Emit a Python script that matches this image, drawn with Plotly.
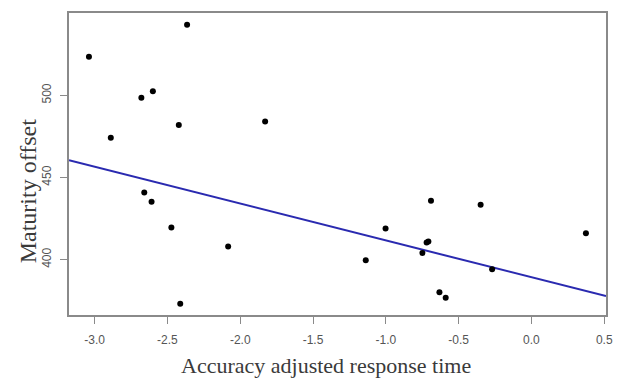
import plotly.graph_objects as go

# Data
response_time = [-3.039, -2.365, -2.679, -2.600, -2.422, -1.829, -2.889, -2.659, -2.609,
                 -2.473, -2.083, -2.412, -0.690, -0.349, -1.002, 0.374, -0.708, -0.720,
                 -0.749, -1.138, -0.270, -0.632, -0.589]
maturity_offset = [523.5, 542.9, 498.5, 502.5, 482.0, 484.0, 474.1, 440.9, 435.2,
                   419.5, 408.0, 373.2, 435.8, 433.4, 418.9, 416.1, 411.1, 410.5,
                   404.0, 399.6, 394.1, 380.2, 376.8]
fit_intercept = 389.3
fit_slope = -22.4

x_ticks = [-3.0, -2.5, -2.0, -1.5, -1.0, -0.5, 0.0, 0.5]
x_tick_labels = ["-3.0", "-2.5", "-2.0", "-1.5", "-1.0", "-0.5", "0.0", "0.5"]
y_ticks = [400, 450, 500]
y_tick_labels = ["400", "450", "500"]

x_range = [-3.176, 0.512]
y_range = [366.3, 550.1]

line_x = x_range
line_y = [fit_intercept + fit_slope * v for v in line_x]

fig = go.Figure()
fig.add_trace(go.Scatter(x=line_x, y=line_y, mode="lines",
                         line=dict(color="#2a2ab0", width=2), hoverinfo="skip"))
fig.add_trace(go.Scatter(x=response_time, y=maturity_offset, mode="markers",
                         marker=dict(color="black", size=6)))

axis_common = dict(showgrid=False, zeroline=False, showline=True, mirror=True,
                   linecolor="#8a8a8a", linewidth=1.5, ticks="outside", ticklen=7,
                   tickcolor="#8a8a8a", tickwidth=1.2,
                   tickfont=dict(family="Liberation Sans, Arial", size=12, color="#555555"))

fig.update_layout(
    width=624, height=378,
    margin=dict(l=69, r=11, t=11, b=63),
    paper_bgcolor="white", plot_bgcolor="white",
    showlegend=False,
    xaxis=dict(range=x_range, tickvals=x_ticks, ticktext=x_tick_labels,
               ticklabelstandoff=6, **axis_common),
    yaxis=dict(range=y_range, tickvals=y_ticks, ticktext=y_tick_labels,
               tickangle=-90, ticklabelstandoff=4, **axis_common),
    annotations=[
        dict(text="Accuracy adjusted response time", xref="paper", yref="paper",
             x=(329 - 69) / 544, y=(315 - 366) / 304, xanchor="center", yanchor="middle",
             showarrow=False,
             font=dict(family="Liberation Serif, Times New Roman", size=22, color="#3a3a3a")),
        dict(text="Maturity offset", xref="paper", yref="paper",
             x=(27 - 69) / 544, y=(315 - 190) / 304, xanchor="center", yanchor="middle",
             textangle=-90, showarrow=False,
             font=dict(family="Liberation Serif, Times New Roman", size=24, color="#3a3a3a")),
    ],
)

fig.write_html("out.html")
